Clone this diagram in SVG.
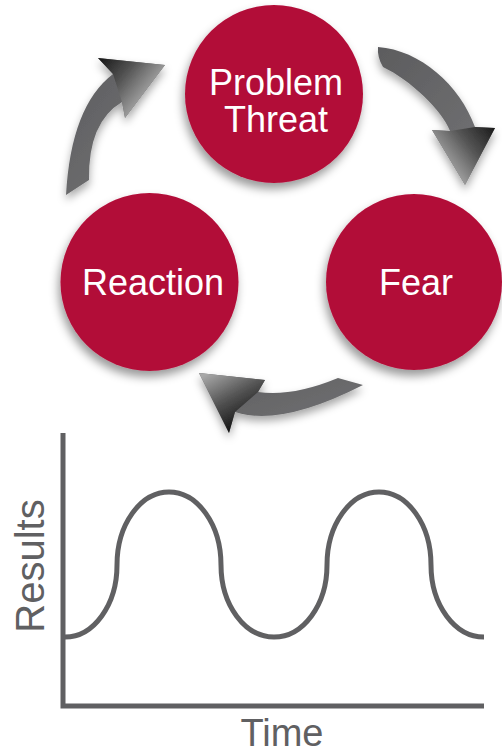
<svg xmlns="http://www.w3.org/2000/svg" width="502" height="755" viewBox="0 0 502 755">
<defs>
<style>
.node circle{fill:#b20a37;filter:url(#sh)}
.node text{fill:#fff;font-family:"Liberation Sans",Arial,sans-serif;font-size:36px;text-anchor:middle}
.arrow{filter:url(#ash)}
.shaft{fill:url(#gShaft)}
.axis{stroke:#606062;stroke-width:5;fill:none}
.curve{stroke:#606062;stroke-width:5;fill:none}
.lbl{fill:#606062;font-family:"Liberation Sans",Arial,sans-serif;font-size:40px;text-anchor:middle}
</style>
<filter id="sh" x="-30%" y="-30%" width="160%" height="170%">
<feDropShadow dx="-2" dy="6" stdDeviation="5" flood-color="#000" flood-opacity="0.4"/>
</filter>
<filter id="ash" x="-40%" y="-40%" width="180%" height="190%">
<feDropShadow dx="0" dy="5" stdDeviation="4" flood-color="#000" flood-opacity="0.35"/>
</filter>
<linearGradient id="gShaft" x1="0" y1="0" x2="1" y2="1">
<stop offset="0" stop-color="#5c5c5e"/>
<stop offset="1" stop-color="#757577"/>
</linearGradient>
<linearGradient id="h1" gradientUnits="userSpaceOnUse" x1="100" y1="60" x2="150" y2="100">
<stop offset="0" stop-color="#1a1a1a"/>
<stop offset="0.45" stop-color="#555"/>
<stop offset="1" stop-color="#b0b0b0"/>
</linearGradient>
<linearGradient id="h2" gradientUnits="userSpaceOnUse" x1="495" y1="128" x2="440" y2="170">
<stop offset="0" stop-color="#1a1a1a"/>
<stop offset="0.45" stop-color="#555"/>
<stop offset="1" stop-color="#b8b8b8"/>
</linearGradient>
<linearGradient id="h3" gradientUnits="userSpaceOnUse" x1="205" y1="375" x2="235" y2="430">
<stop offset="0" stop-color="#a8a8a8"/>
<stop offset="0.5" stop-color="#555"/>
<stop offset="1" stop-color="#111"/>
</linearGradient>
</defs>
<rect width="502" height="755" fill="#fff"/>

<g id="connectors">
<g id="arrow-reaction-problem" class="arrow">
<path class="shaft" d="M66,195 Q71,106 113,74 L98,58 L165,65 L125,118 L122,102 Q88,122 89,180 Z"/>
<path fill="url(#h1)" d="M113,74 L98,58 L165,65 L125,118 L122,102 Z"/>
</g>
<g id="arrow-problem-fear" class="arrow">
<path class="shaft" d="M378,47 C420,50 460,85 475,127 L495,128 L465,185 L432,130 L450,131 C442,110 410,80 383,67 Q377,57 378,47 Z"/>
<path fill="url(#h2)" d="M475,127 L495,128 L465,185 L432,130 L450,131 Z"/>
</g>
<g id="arrow-fear-reaction" class="arrow">
<path class="shaft" d="M363,385 Q281,427 235,412 L229,433 L199,373 L265,380 L258,392 Q292,397 338,378 Z"/>
<path fill="url(#h3)" d="M235,412 L229,433 L199,373 L265,380 L258,392 Z"/>
</g>
</g>

<g id="node-problem" class="node">
<circle cx="274" cy="94" r="89"/>
<text x="276" y="95">Problem</text>
<text x="276" y="132">Threat</text>
</g>
<g id="node-fear" class="node">
<circle cx="414" cy="282" r="88"/>
<text x="416" y="295">Fear</text>
</g>
<g id="node-reaction" class="node">
<circle cx="149.5" cy="282" r="89"/>
<text x="153" y="295">Reaction</text>
</g>

<g id="chart">
<path class="axis" d="M63,433 V706 H484"/>
<path class="curve" d="M65,637 A52,72 0 0 0 117,565 A52,73 0 0 1 169,492 A52,73 0 0 1 221,565 A53,72 0 0 0 274,637 A53,72 0 0 0 327,565 A52,73 0 0 1 379,492 A52,73 0 0 1 431,565 A53,72 0 0 0 484,637"/>
<text class="lbl" x="282" y="746" style="font-size:38px">Time</text>
<text class="lbl" transform="translate(44,566) rotate(-90)">Results</text>
</g>
</svg>
